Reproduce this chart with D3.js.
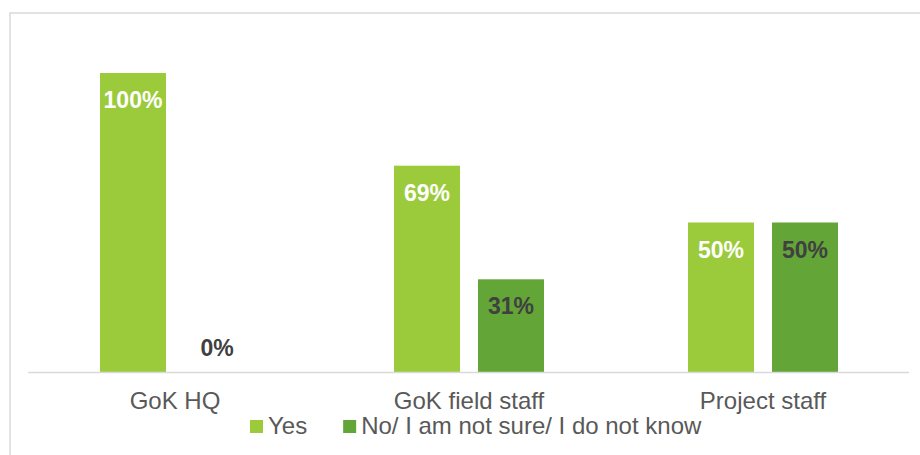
<!DOCTYPE html>
<html>
<head>
<meta charset="utf-8">
<script src="https://cdn.jsdelivr.net/npm/d3@7"></script>
<style>
  body { margin: 0; background: #fff; }
  #canvas-1 { width: 920px; height: 455px; }
  text { font-family: "Liberation Sans", Arial, sans-serif; }
</style>
</head>
<body>
<div id="canvas-1"></div>
<script>
/* chart values */
var categories = ['GoK HQ', 'GoK field staff', 'Project staff'];
var series = ['Yes', 'No/ I am not sure/ I do not know'];
var yesValues = [100, 69, 50];
var noValues = [0, 31, 50];
var seriesColors = ['#9BCB3B', '#63A537'];
var labelColors = ['#ffffff', '#404040'];

var canvasWidth = 920,
    canvasHeight = 455;

var svg = d3.select('#canvas-1')
	.append('svg')
	.attr('width', canvasWidth)
	.attr('height', canvasHeight);

// light frame, only left and top edges show
svg.append('rect')
	.attr('x', 10)
	.attr('y', 13)
	.attr('width', 1000)
	.attr('height', 1000)
	.style('fill', 'none')
	.style('stroke', '#d9d9d9')
	.style('stroke-width', '1.5px');

var x0 = d3.scaleBand()
	.domain(categories)
	.range([28, 910]);

var x1 = d3.scaleBand()
	.domain(series)
	.range([72, 222])
	.paddingInner(18 / 84);

var y = d3.scaleLinear()
	.domain([0, 100])
	.range([372, 73]);

var rows = categories.map(function(c, i){
	return {cat: c, values: [
		{s: series[0], v: yesValues[i], k: 0},
		{s: series[1], v: noValues[i], k: 1}
	]};
});

var groups = svg.selectAll('g.cat')
	.data(rows)
	.enter()
	.append('g')
	.attr('class', 'cat')
	.attr('transform', function(d){ return 'translate(' + x0(d.cat) + ',0)'; });

groups.selectAll('rect')
	.data(function(d){ return d.values; })
	.enter()
	.append('rect')
	.attr('x', function(d){ return x1(d.s); })
	.attr('y', function(d){ return y(d.v); })
	.attr('width', x1.bandwidth())
	.attr('height', function(d){ return y(0) - y(d.v); })
	.style('fill', function(d){ return seriesColors[d.k]; });

groups.selectAll('text.val')
	.data(function(d){ return d.values; })
	.enter()
	.append('text')
	.attr('class', 'val')
	.attr('x', function(d){ return x1(d.s) + x1.bandwidth() / 2; })
	.attr('y', function(d){ return d.v === 0 ? y(0) - 16 : y(d.v) + 35; })
	.attr('text-anchor', 'middle')
	.style('font-size', '23px')
	.style('font-weight', 'bold')
	.style('fill', function(d){ return d.v === 0 ? '#404040' : labelColors[d.k]; })
	.text(function(d){ return d.v + '%'; });

// baseline
svg.append('line')
	.attr('x1', x0.range()[0])
	.attr('x2', x0.range()[1] - 1)
	.attr('y1', y(0) + 0.5)
	.attr('y2', y(0) + 0.5)
	.style('stroke', '#d9d9d9')
	.style('stroke-width', '1.5px');

// category labels
svg.selectAll('text.cat')
	.data(categories)
	.enter()
	.append('text')
	.attr('class', 'cat')
	.attr('x', function(d){ return x0(d) + x0.bandwidth() / 2; })
	.attr('y', 409)
	.attr('text-anchor', 'middle')
	.style('font-size', '24px')
	.style('fill', '#595959')
	.text(function(d){ return d; });

// legend
var legend = svg.append('g')
	.attr('transform', 'translate(250,0)');
var lx = 0;
series.forEach(function(s, i){
	var item = legend.append('g')
		.attr('transform', 'translate(' + lx + ',0)');
	item.append('rect')
		.attr('x', 0)
		.attr('y', 420)
		.attr('width', 13)
		.attr('height', 13)
		.style('fill', seriesColors[i]);
	var t = item.append('text')
		.attr('x', 18)
		.attr('y', 434)
		.style('font-size', '24px')
		.style('fill', '#595959')
		.text(s);
	lx += 18 + t.node().getComputedTextLength() + 36;
});
</script>
</body>
</html>
